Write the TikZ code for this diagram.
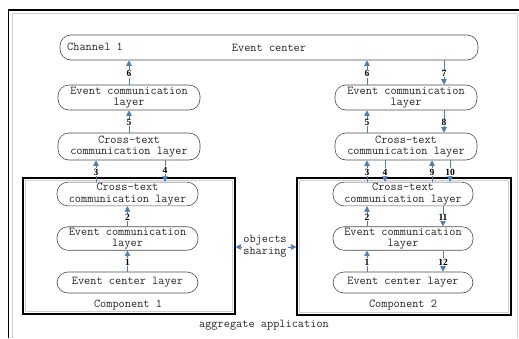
\documentclass[tikz,border=0pt]{standalone}
\usepackage{fontspec}
\setmainfont{Liberation Serif}
\usetikzlibrary{arrows.meta,calc}
\definecolor{arrblue}{HTML}{4A7EBB}
\definecolor{lightedge}{HTML}{C8D0DC}
\tikzset{
  layer/.style={draw=black!70, line width=0.6pt, rounded corners=11pt, minimum width=142pt, minimum height=25pt, align=center, inner sep=1pt, text=black!85, font=\ttfamily\fontsize{12}{11.5}\selectfont},
  plain/.style={align=center, inner sep=1pt, text=black!85, font=\ttfamily\fontsize{12}{11.5}\selectfont},
  compbox/.style={draw=black, line width=1.2pt, inner sep=0pt},
  arr/.style={draw=arrblue, line width=0.8pt, -{Triangle[width=5.5pt,length=5.5pt]}},
  lbl/.style={fill=white, inner sep=0.6pt, font=\bfseries\fontsize{9.5}{10}\selectfont},
}
\begin{document}
\begin{tikzpicture}[x=1pt,y=-1pt]
\useasboundingbox (0,0) rectangle (519,338);
% outer frame
\draw[lightedge, line width=0.8pt] (12.5,338) -- (12.5,13.5) -- (517,13.5) -- (517,338);
\draw[black, line width=1.4pt] (8.5,338) -- (8.5,10) -- (519,10);

% component boxes
\node[compbox, minimum width=212pt, minimum height=136pt] (comp1) at (129,246) {};
\node[compbox, minimum width=214pt, minimum height=137pt] (comp2) at (404,246.5) {};
\draw[lightedge, line width=0.7pt] ([shift={(3,3)}]comp1.north west) rectangle ([shift={(-3,-3)}]comp1.south east);
\draw[lightedge, line width=0.7pt] ([shift={(3,3)}]comp2.north west) rectangle ([shift={(-3,-3)}]comp2.south east);

% event center
\node[layer, minimum width=418pt] (ec) at (269,47.5) {Event center};
\node[plain, anchor=west] (ch) at (66,47) {Channel 1};

% left column
\node[layer] (L1) at (129,97.5) {Event communication\\layer};
\node[layer, minimum height=27pt] (L2) at (129,146.5) {Cross-text\\communication layer};
\node[layer, minimum width=141pt, minimum height=22pt] (A1) at (127.5,194) {Cross-text\\communication layer};
\node[layer, minimum width=141pt, minimum height=23pt] (A2) at (127.5,238.5) {Event communication\\layer};
\node[layer, minimum width=141pt, minimum height=21pt] (A3) at (127.5,282.5) {Event center layer};
\node[plain] (c1lab) at (128,305) {Component 1};

% right column
\node[layer] (R1) at (406,97.5) {Event communication\\layer};
\node[layer, minimum height=27pt] (R2) at (406,146.5) {Cross-text\\communication layer};
\node[layer, minimum width=140pt, minimum height=22pt] (B1) at (403,194) {Cross-text\\communication layer};
\node[layer, minimum width=140pt, minimum height=23pt] (B2) at (403,238.5) {Event communication\\layer};
\node[layer, minimum width=140pt, minimum height=21pt] (B3) at (403,282.5) {Event center layer};
\node[plain] (c2lab) at (403,305) {Component 2};

% middle texts
\node[plain] (os) at (265,246) {objects\\sharing};
\node[plain] (agg) at (264,325) {aggregate application};

\coordinate (r6) at ([xshift=-39pt]R1.north);
\coordinate (r7) at ([xshift=38pt]R1.north);

% left arrows
\draw[arr] (L1.north) -- (ec.south -| L1.north) node[lbl, pos=0.45] {6};
\draw[arr] (L2.north) -- (L1.south) node[lbl, pos=0.45] {5};
\draw[arr] ([xshift=-31.5pt]A1.north) -- ([xshift=-33pt]L2.south) node[lbl, pos=0.45] {3};
\draw[arr] ([xshift=36pt]L2.south) -- ([xshift=37.5pt]A1.north) node[lbl, pos=0.45] {4};
\draw[arr] (A2.north) -- (A1.south) node[lbl, pos=0.45] {2};
\draw[arr] (A3.north) -- (A2.south) node[lbl, pos=0.45] {1};

% right arrows
\draw[arr] (r6) -- (ec.south -| r6) node[lbl, pos=0.45] {6};
\draw[arr] (ec.south -| r7) -- (r7) node[lbl, pos=0.55] {7};
\draw[arr] ([xshift=-39pt]R2.north) -- ([xshift=-39pt]R1.south) node[lbl, pos=0.45] {5};
\draw[arr] ([xshift=38pt]R1.south) -- ([xshift=38pt]R2.north) node[lbl, pos=0.55] {8};
\draw[arr] ([xshift=-36pt]B1.north) -- ([xshift=-39pt]R2.south) node[lbl, pos=0.45] {3};
\draw[arr] ([xshift=-21pt]R2.south) -- ([xshift=-18pt]B1.north) node[lbl, pos=0.55] {4};
\draw[arr] ([xshift=29pt]B1.north) -- ([xshift=26pt]R2.south) node[lbl, pos=0.45] {9};
\draw[arr] ([xshift=44pt]R2.south) -- ([xshift=47pt]B1.north) node[lbl, pos=0.55] {10};
\draw[arr] ([xshift=-36pt]B2.north) -- ([xshift=-36pt]B1.south) node[lbl, pos=0.45] {2};
\draw[arr] ([xshift=40pt]B1.south) -- ([xshift=40pt]B2.north) node[lbl, pos=0.55] {11};
\draw[arr] ([xshift=-36pt]B3.north) -- ([xshift=-36pt]B2.south) node[lbl, pos=0.45] {1};
\draw[arr] ([xshift=40pt]B2.south) -- ([xshift=40pt]B3.north) node[lbl, pos=0.55] {12};

% objects sharing arrows
\draw[arr] ([yshift=-1pt]os.west) -- ([yshift=-1pt]os.west -| comp1.east);
\draw[arr] ([yshift=-1pt]os.east) -- ([yshift=-1pt]os.east -| comp2.west);
\end{tikzpicture}
\end{document}
